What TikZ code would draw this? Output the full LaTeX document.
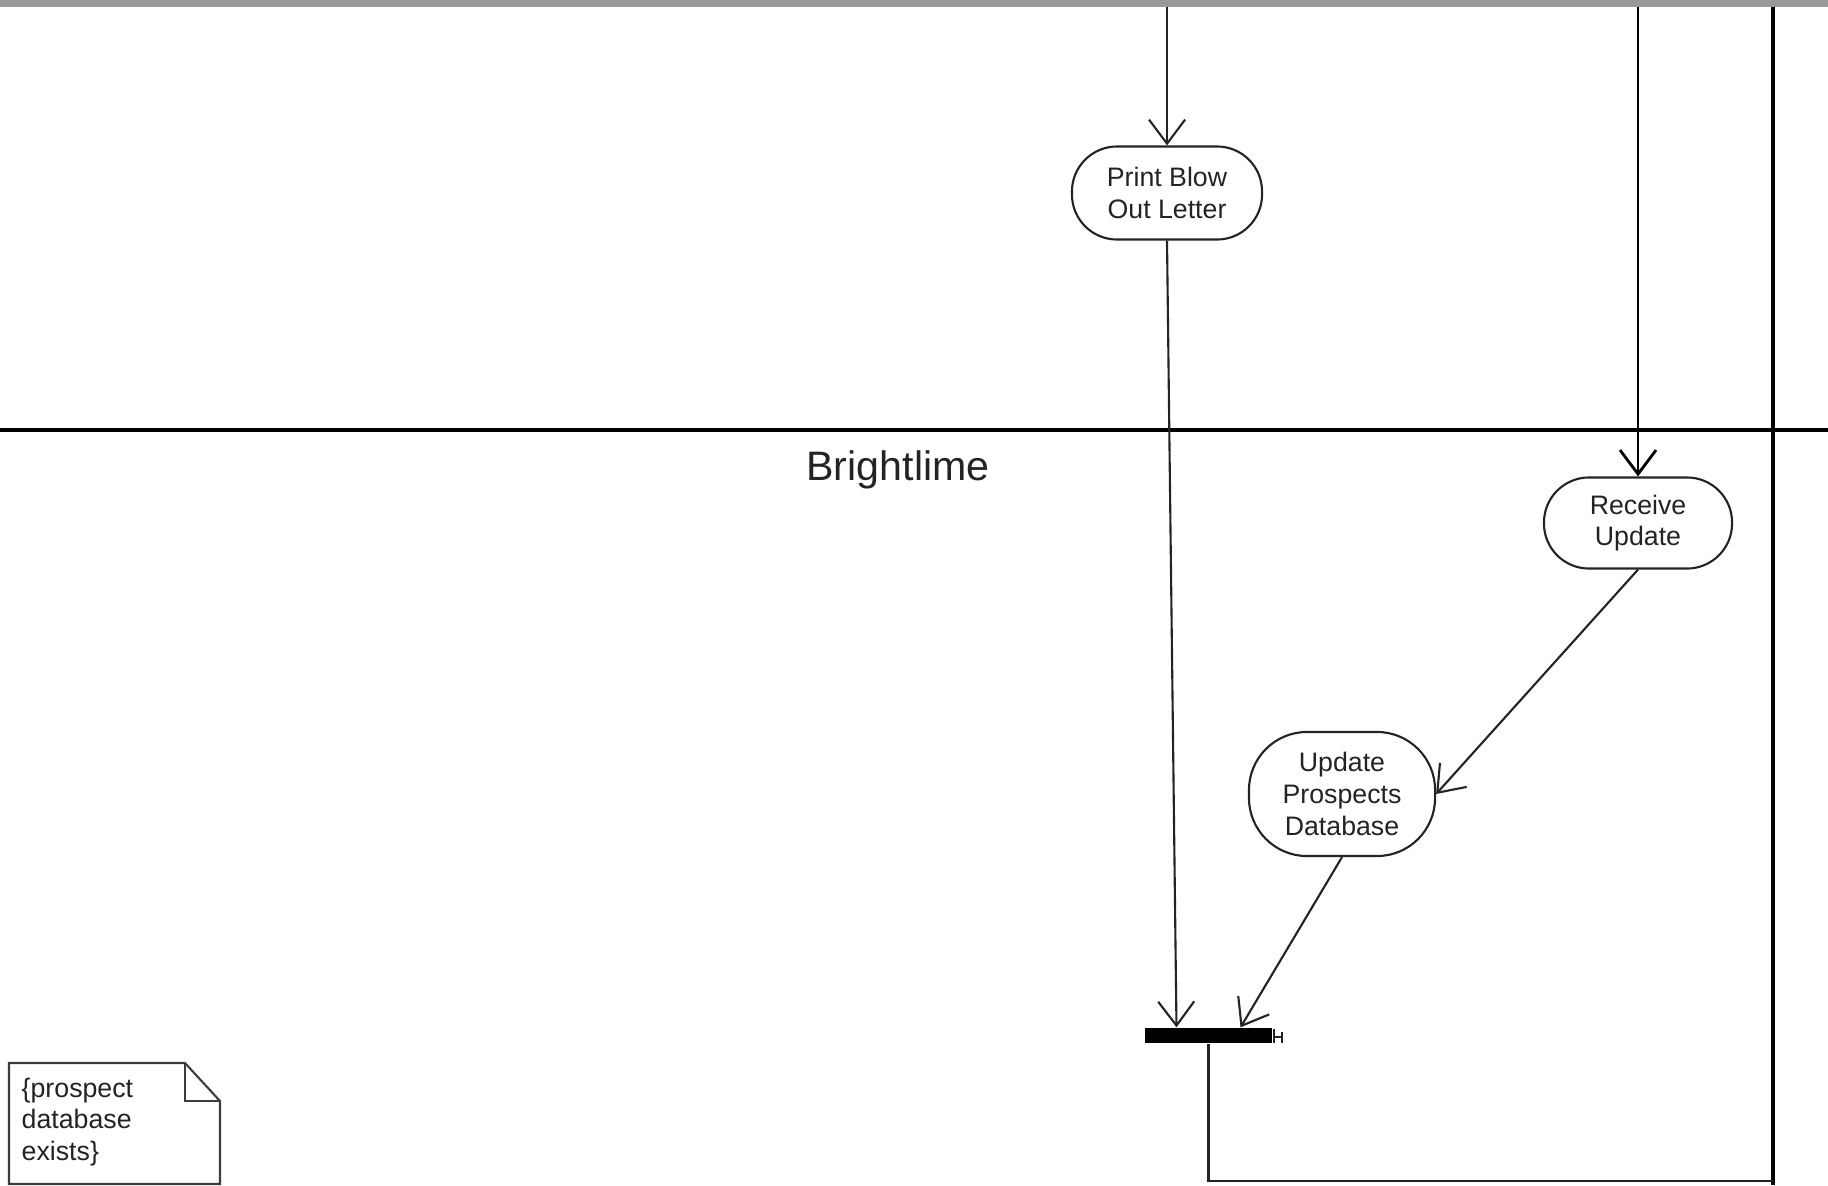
\documentclass[tikz,border=0pt]{standalone}
\usepackage{fontspec}
\setmainfont{Liberation Sans}
\usetikzlibrary{arrows.meta,positioning}
\definecolor{bargray}{RGB}{153,153,153}
\definecolor{ink}{RGB}{35,35,35}
\definecolor{noteedge}{RGB}{60,60,60}
\tikzset{
  laneline/.style={draw=black,line width=0.9pt},
  wireline/.style={draw=ink,line width=0.6pt},
  flowline/.style={wireline,-{Straight Barb[length=2.4mm,width=3.6mm]}},
  actbox/.style={draw=ink,line width=0.6pt,rectangle,rounded corners=0.45cm,
    minimum width=1.9cm,minimum height=0.93cm,align=center,inner sep=0pt,
    text=ink,font=\fontsize{7.6}{9}\selectfont},
  joinbar/.style={fill=black,rectangle,minimum width=1.27cm,minimum height=0.15cm,inner sep=0pt},
  lanefont/.style={font=\fontsize{11.7}{14}\selectfont,text=ink},
  notefont/.style={font=\fontsize{7.6}{9}\selectfont,text=ink,align=left,inner sep=0pt},
}
\newcommand{\notepage}[4]{% x0, y0, x1, y1 with a folded corner
  \draw[noteedge,line width=0.6pt] (#1,#2) -- ({#3-35},#2) -- (#3,{#2+38}) -- (#3,#4)
    -- (#1,#4) -- cycle;
  \draw[noteedge,line width=0.6pt] ({#3-35},#2) -- ({#3-35},{#2+38}) -- (#3,{#2+38});}

\begin{document}
\begin{tikzpicture}[x=0.01cm,y=-0.01cm]
  \useasboundingbox (0,0) rectangle (1828,1185);
  % lane frame
  \fill[bargray] (0,0) rectangle (1828,7);
  \draw[laneline] (0,430) -- (1828,430);
  \draw[laneline] (1773,7) -- (1773,1185);
  \node[lanefont,anchor=base] (lanename) at (898,480) {Brightlime};
  % activities
  \node[actbox] (printletter) at (1167,193) {Print Blow\\Out Letter};
  \node[actbox,minimum width=1.88cm,minimum height=0.91cm] (receive) at (1638,523) {Receive\\Update};
  \node[actbox,minimum width=1.86cm,minimum height=1.24cm,rounded corners=0.58cm] (updatedb) at (1342,794) {Update\\Prospects\\Database};
  \node[joinbar] (join) at (1208.5,1035.5) {};
  \draw[ink,line width=0.4pt] (1274,1029) -- (1274,1043) (1274,1037) -- (1282,1037) (1282,1032) -- (1282,1043);
  % incoming from the lane above
  \coordinate (topA) at (1167,7);
  \coordinate (topB) at (1638,7);
  \draw[flowline] (topA) -- (printletter.north);
  \draw[flowline,draw=black,line width=0.8pt] (topB) -- (receive.north);
  % flows
  \draw[flowline] (receive.south) -- (updatedb.east);
  \draw[flowline] (printletter.south) -- ([xshift=-0.32cm]join.north);
  \draw[flowline] (updatedb.south) -- ([xshift=0.32cm]join.north);
  \coordinate (exitend) at (1773,1181);
  \draw[wireline] (join.south) |- (exitend);
  % constraint note
  \notepage{9}{1063}{220}{1184}
  \node[notefont,anchor=north west] (prenote) at (21,1077) {\{prospect\\database\\exists\}};
\end{tikzpicture}
\end{document}
